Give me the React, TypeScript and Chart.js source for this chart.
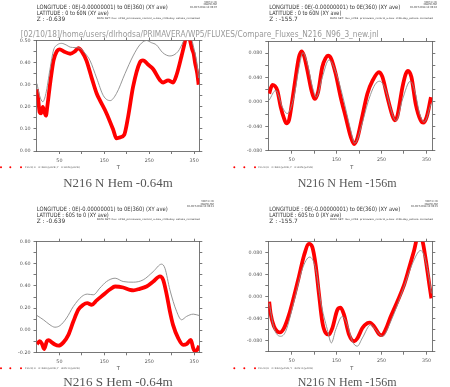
import React, { useEffect, useRef } from "react";
import { Chart, registerables } from "chart.js";
Chart.register(...registerables);

// ---------------- data ----------------
const xTickValues = [50, 100, 150, 200, 250, 300, 350];
const xTickLabels = [50, 150, 250, 350];

// top-left: N216 N Hem -0.64m
const tlRedX = [0, 3, 6, 9, 13, 16, 20, 23, 29, 33, 37, 44, 51, 60, 74, 84, 92, 100, 110, 122, 133, 140, 155, 170, 177, 185, 194, 203, 214, 229, 236, 248, 259, 274, 281, 292, 303, 311, 322, 329, 335, 341, 346, 349, 352, 357, 360];
const tlRedY = [0.28, 0.23, 0.175, 0.17, 0.2, 0.18, 0.16, 0.2, 0.3, 0.36, 0.41, 0.45, 0.46, 0.45, 0.44, 0.45, 0.465, 0.45, 0.41, 0.33, 0.26, 0.23, 0.17, 0.095, 0.057, 0.062, 0.072, 0.155, 0.29, 0.4, 0.41, 0.39, 0.37, 0.32, 0.31, 0.32, 0.31, 0.345, 0.43, 0.49, 0.56, 0.5, 0.457, 0.44, 0.4, 0.35, 0.3];
const tlGrayX = [0, 6, 13, 20, 29, 37, 45, 55, 65, 74, 85, 96, 108, 118, 133, 148, 163, 177, 196, 214, 229, 244, 255, 266, 280, 296, 314, 326, 334, 342, 350, 356, 360];
const tlGrayY = [0.305, 0.25, 0.223, 0.26, 0.37, 0.457, 0.48, 0.487, 0.48, 0.47, 0.468, 0.465, 0.44, 0.41, 0.33, 0.25, 0.228, 0.26, 0.35, 0.43, 0.48, 0.5, 0.49, 0.48, 0.445, 0.43, 0.45, 0.495, 0.53, 0.52, 0.46, 0.4, 0.33];

// top-right: N216 N Hem -156m
const trRedX = [0, 7, 18, 25.5, 33, 38, 44, 51.5, 59, 66, 72, 77.5, 85, 94, 101, 108.7, 118, 125.7, 131, 138, 148, 159, 170, 181.4, 189, 196, 207, 218.5, 230, 244.5, 252, 263, 274, 279.5, 285, 296.5, 304, 309, 316.5, 326, 337, 343, 350.7, 360];
const trRedY = [0.0136, 0.028, 0.019, -0.008, -0.027, -0.035, -0.03, 0.003, 0.041, 0.073, 0.083, 0.076, 0.052, 0.019, 0.005, 0.016, 0.057, 0.072, 0.076, 0.071, 0.046, 0.008, -0.024, -0.057, -0.069, -0.06, -0.024, 0.0136, 0.035, 0.049, 0.041, 0.008, -0.022, -0.03, -0.024, 0.024, 0.046, 0.051, 0.041, -0.003, -0.03, -0.034, -0.024, 0.008];
const trGrayX = [0, 14.5, 29, 40, 55, 66, 75, 85, 96, 105, 118, 133, 150, 165, 180, 190.5, 205, 220, 235, 246, 260, 270, 282, 297, 314, 325, 335, 345, 360];
const trGrayY = [0.003, 0.019, -0.008, -0.019, 0.008, 0.055, 0.081, 0.063, 0.025, 0.008, 0.04, 0.069, 0.045, 0.005, -0.042, -0.068, -0.04, 0.0, 0.028, 0.034, 0.018, -0.01, -0.031, 0.005, 0.034, 0.015, -0.02, -0.033, -0.003];

// bottom-left: N216 S Hem -0.64m
const blRedX = [0, 6, 10.8, 16, 22, 26, 33, 40, 48, 59, 70, 81, 92, 103, 112, 122, 133, 148, 163, 174, 192, 207, 215, 229, 244, 259, 274, 281, 289, 296, 303, 314.5, 325.6, 333, 342.7, 348, 351.6, 357, 361];
const blRedY = [-0.127, -0.1, -0.12, -0.17, -0.1, -0.09, -0.11, -0.13, -0.14, -0.11, -0.042, 0.078, 0.184, 0.23, 0.244, 0.23, 0.27, 0.32, 0.37, 0.395, 0.386, 0.365, 0.36, 0.374, 0.395, 0.44, 0.486, 0.455, 0.32, 0.17, 0.048, -0.072, -0.133, -0.127, -0.087, -0.163, -0.187, -0.178, -0.14];
const blGrayX = [0, 14.5, 29, 40, 51.5, 66, 81, 100, 112, 125.6, 140, 155, 174, 192, 214.5, 236.6, 259, 277.5, 285, 296, 311, 322, 333, 348, 361];
const blGrayY = [0.133, 0.094, 0.048, 0.027, 0.042, 0.11, 0.214, 0.305, 0.326, 0.32, 0.38, 0.44, 0.47, 0.44, 0.434, 0.455, 0.53, 0.597, 0.56, 0.365, 0.17, 0.094, 0.124, 0.145, 0.133];

// bottom-right: N216 N Hem -156m
const brRedX = [0, 3, 10.7, 18, 24, 33, 44, 55, 66, 77.5, 88.6, 96, 103.5, 111, 118, 125.7, 133, 140.6, 151.7, 159, 166.6, 177.7, 189, 196, 207.4, 218.5, 223.8, 233.5, 244.5, 250, 259, 270.5, 285, 300, 311, 322.5, 333, 341, 348.7, 356, 361];
const brRedY = [-0.009, -0.03, -0.054, -0.063, -0.065, -0.057, -0.033, 0, 0.036, 0.075, 0.096, 0.09, 0.057, 0.003, -0.045, -0.066, -0.069, -0.057, -0.024, -0.02, -0.033, -0.069, -0.081, -0.076, -0.057, -0.048, -0.047, -0.054, -0.068, -0.07, -0.06, -0.036, -0.009, 0.021, 0.051, 0.084, 0.115, 0.102, 0.066, 0.024, -0.003];
const brGrayX = [0, 10.7, 25.5, 36.7, 55, 74, 90, 103.5, 114.6, 129.5, 138.4, 148, 162.8, 174, 185, 196, 207.4, 226, 237, 252, 270.5, 300, 318.7, 337, 344.8, 356, 361];
const brGrayY = [-0.012, -0.057, -0.072, -0.063, -0.009, 0.051, 0.072, 0.051, -0.009, -0.06, -0.084, -0.06, -0.036, -0.051, -0.081, -0.09, -0.075, -0.051, -0.06, -0.072, -0.045, 0.018, 0.06, 0.084, 0.075, 0.033, 0.006];

const tlYTicks = [0, 0.05, 0.1, 0.15, 0.2, 0.25, 0.3, 0.35, 0.4, 0.45, 0.5];
const tlYLabels = [0, 0.1, 0.2, 0.3, 0.4, 0.5];
const trYTicks = [-0.08, -0.06, -0.04, -0.02, 0, 0.02, 0.04, 0.06, 0.08, 0.1];
const trYLabels = [-0.08, -0.04, 0, 0.04, 0.08];
const blYTicks = [-0.2, -0.1, 0, 0.1, 0.2, 0.3, 0.4, 0.5, 0.6, 0.7, 0.8];
const blYLabels = [-0.2, 0, 0.2, 0.4, 0.6, 0.8];
const brYTicks = [-0.1, -0.08, -0.06, -0.04, -0.02, 0, 0.02, 0.04, 0.06, 0.08, 0.1];
const brYLabels = [-0.08, -0.04, 0, 0.04, 0.08];

const titles = ["N216 N Hem -0.64m", "N216 N Hem -156m", "N216 S Hem -0.64m", "N216 N Hem -156m"];
const headerText = "[02/10/18]/home/users/dlrhodsa/PRIMAVERA/WP5/FLUXES/Compare_Fluxes_N216_N96_3_new.jnl";
const longText = "LONGITUDE : 0E(-0.00000001) to 0E(360) (XY ave)";
const latTexts = ["LATITUDE : 0 to 60N (XY ave)", "LATITUDE : 0 to 60N (XY ave)", "LATITUDE : 60S to 0 (XY ave)", "LATITUDE : 60S to 0 (XY ave)"];
const zTexts = ["Z : -0.639", "Z : -155.7", "Z : -0.639", "Z : -155.7"];
const stampTimes = ["02-OCT-2018 13:06:07", "02-OCT-2018 13:06:10", "02-OCT-2018 13:06:13", "02-OCT-2018 13:06:15"];
const dataSetText = "DATA SET: flux_n216_primavera_control_u-bax_cf3b-day_ashaia_corrected";
const legendTexts = ["FLUX[X=0:360@AVE,Y=0:60N@AVE]", "FLUX[X=0:360@AVE,Y=0:60N@AVE]", "FLUX[X=0:360@AVE,Y=60S:0@AVE]", "FLUX[X=0:360@AVE,Y=60S:0@AVE]"];

// ---------------- layout / style ----------------
const AXIS = "#555";
const LABEL = "#555";
const SANS = "'DejaVu Sans', 'Liberation Sans', sans-serif";
const SERIF = "'Liberation Serif', 'DejaVu Serif', serif";

type Cfg = {
  left: number; top: number; w: number; h: number;
  area: { l: number; t: number; r: number; b: number };
  xMin: number; xMax: number; yMin: number; yMax: number;
  yTicks: number[]; yLabels: number[]; dec: number;
  redX: number[]; redY: number[]; grayX: number[]; grayY: number[];
};

const panels: Cfg[] = [
  { left: 0, top: 0, w: 225, h: 193, area: { l: 36.5, t: 40.5, r: 199.3, b: 151 }, xMin: -1, xMax: 361.5, yMin: 0, yMax: 0.5, yTicks: tlYTicks, yLabels: tlYLabels, dec: 2, redX: tlRedX, redY: tlRedY, grayX: tlGrayX, grayY: tlGrayY },
  { left: 225, top: 0, w: 225, h: 193, area: { l: 43.3, t: 41, r: 207.3, b: 150.7 }, xMin: -2, xMax: 363, yMin: -0.08, yMax: 0.1, yTicks: trYTicks, yLabels: trYLabels, dec: 3, redX: trRedX, redY: trRedY, grayX: trGrayX, grayY: trGrayY },
  { left: 0, top: 193, w: 225, h: 194, area: { l: 36.5, t: 48.7, r: 199.3, b: 159.3 }, xMin: -1, xMax: 361.5, yMin: -0.2, yMax: 0.8, yTicks: blYTicks, yLabels: blYLabels, dec: 2, redX: blRedX, redY: blRedY, grayX: blGrayX, grayY: blGrayY },
  { left: 225, top: 193, w: 225, h: 194, area: { l: 43.3, t: 48.7, r: 207.3, b: 158.7 }, xMin: -2, xMax: 363, yMin: -0.1, yMax: 0.1, yTicks: brYTicks, yLabels: brYLabels, dec: 3, redX: brRedX, redY: brRedY, grayX: brGrayX, grayY: brGrayY },
];

const near = (arr: number[], v: number) => arr.some((a) => Math.abs(a - v) < 1e-9);

function Panel({ cfg }: { cfg: Cfg }) {
  const ref = useRef<HTMLCanvasElement>(null);
  useEffect(() => {
    const c = cfg;
    const grid = { drawOnChartArea: false, drawTicks: true, tickLength: 3, color: AXIS, lineWidth: 0.8 };
    const border = { display: true, color: AXIS, width: 0.8 };
    const tickFont = { size: 4.8, family: SANS };
    const setTicks = (vals: number[]) => (s: any) => {
      s.ticks = vals.map((v) => ({ value: v }));
    };
    const chart = new Chart(ref.current as HTMLCanvasElement, {
      type: "line",
      data: {
        datasets: [
          {
            data: c.redX.map((x, i) => ({ x, y: c.redY[i] })),
            borderColor: "#ff0000",
            borderWidth: 3.8,
            pointRadius: 0,
            cubicInterpolationMode: "monotone",
            clip: 0,
            order: 2,
          } as any,
          {
            data: c.grayX.map((x, i) => ({ x, y: c.grayY[i] })),
            borderColor: "#8a8a8a",
            borderWidth: 0.9,
            pointRadius: 0,
            cubicInterpolationMode: "monotone",
            clip: 0,
            order: 1,
          } as any,
        ],
      },
      options: {
        animation: false,
        responsive: false,
        devicePixelRatio: 1,
        layout: { padding: 0 },
        plugins: { legend: { display: false }, tooltip: { enabled: false }, title: { display: false } },
        events: [],
        scales: {
          x: {
            type: "linear", position: "bottom", min: c.xMin, max: c.xMax,
            afterBuildTicks: setTicks(xTickValues),
            afterFit: (s: any) => { s.height = c.h - c.area.b; },
            grid, border,
            ticks: { autoSkip: false, maxRotation: 0, minRotation: 0, padding: 3.5, font: tickFont, color: LABEL,
              callback: (v: any) => (near(xTickLabels, v) ? String(v) : "") },
          },
          x2: {
            type: "linear", position: "top", min: c.xMin, max: c.xMax,
            afterBuildTicks: setTicks(xTickValues),
            afterFit: (s: any) => { s.height = c.area.t; },
            grid, border,
            ticks: { autoSkip: false, maxRotation: 0, minRotation: 0, font: tickFont, callback: () => "" },
          },
          y: {
            type: "linear", position: "left", min: c.yMin, max: c.yMax,
            afterBuildTicks: setTicks(c.yTicks),
            afterFit: (s: any) => { s.width = c.area.l; },
            grid, border,
            ticks: { autoSkip: false, padding: 3, font: tickFont, color: LABEL,
              callback: (v: any) => (near(c.yLabels, v) ? Number(v).toFixed(c.dec) : "") },
          },
          y2: {
            type: "linear", position: "right", min: c.yMin, max: c.yMax,
            afterBuildTicks: setTicks(c.yTicks),
            afterFit: (s: any) => { s.width = c.w - c.area.r; },
            grid, border,
            ticks: { autoSkip: false, font: tickFont, callback: () => "" },
          },
        } as any,
      },
    });
    return () => chart.destroy();
  }, [cfg]);
  return (
    <canvas
      ref={ref}
      width={cfg.w}
      height={cfg.h}
      style={{ position: "absolute", left: cfg.left, top: cfg.top, width: cfg.w, height: cfg.h }}
    />
  );
}

function T(props: { x: number; y: number; s: number; len?: number; fill?: string; family?: string; anchor?: string; children: string }) {
  const { x, y, s, len, fill, family, anchor, children } = props;
  return (
    <text
      x={x}
      y={y}
      fontSize={s}
      fill={fill || "#333"}
      fontFamily={family || SANS}
      textAnchor={anchor || "start"}
      {...(len ? { textLength: len, lengthAdjust: "spacingAndGlyphs" } : {})}
    >
      {children}
    </text>
  );
}

export default function App() {
  useEffect(() => {
    document.body.style.margin = "0";
  }, []);

  // per-panel text anchor positions
  const infoX = [36.7, 269.3, 36.7, 269.3];
  const infoY = [9, 9, 210.5, 210.5];
  const stampR = [217, 437, 214, 438];
  const stampY = [2.6, 2.6, 202, 202];
  const dataX = [96.7, 330, 96.7, 330];
  const dataY = [18.8, 18.8, 220, 220];
  const titleX = [118, 347.2, 118, 347.2];
  const titleY = [187, 187, 386.3, 386.3];
  const titleLen = [109.4, 99, 109.4, 99];
  const legY = [167.3, 167.3, 368.3, 368.3];
  const legDots = [[1, 10.3, 21], [234.3, 244.3, 255], [1, 10.3, 21], [234.3, 244.3, 255]];
  const legTextX = [25, 258.3, 25, 258.3];
  const tX = [118.3, 351.7, 118.3, 351.7];

  return (
    <div style={{ position: "relative", width: 450, height: 387, background: "#fff", overflow: "hidden" }}>
      {panels.map((p, i) => (
        <Panel key={i} cfg={p} />
      ))}
      <svg width={450} height={387} style={{ position: "absolute", left: 0, top: 0, pointerEvents: "none" }}>
        {panels.map((_, i) => (
          <g key={i}>
            <T x={stampR[i]} y={stampY[i]} s={2.6} anchor="end" len={12.7}>FERRET Ver. 6.93</T>
            <T x={stampR[i]} y={stampY[i] + 2.5} s={2.6} anchor="end" len={13.2}>NOAA/PMEL TMAP</T>
            <T x={stampR[i]} y={stampY[i] + 5} s={2.6} anchor="end" len={27}>{stampTimes[i]}</T>
            <T x={infoX[i]} y={infoY[i]} s={6} len={131}>{longText}</T>
            <T x={infoX[i]} y={infoY[i] + 6.3} s={6} len={72}>{latTexts[i]}</T>
            <T x={infoX[i]} y={infoY[i] + 12} s={6} len={28.5}>{zTexts[i]}</T>
            <T x={dataX[i]} y={dataY[i]} s={2.4} len={103}>{dataSetText}</T>
            <T x={tX[i]} y={legY[i] + 1.8} s={5} anchor="middle" fill="#444">T</T>
            {legDots[i].map((dx, k) => (
              <circle key={k} cx={dx} cy={legY[i]} r={1} fill="#ff0000" />
            ))}
            <T x={legTextX[i]} y={legY[i] + 0.9} s={2.4} len={55} fill="#666">{legendTexts[i]}</T>
            <T x={titleX[i]} y={titleY[i]} s={13} anchor="middle" len={titleLen[i]} fill="#555" family={SERIF}>
              {titles[i]}
            </T>
          </g>
        ))}
        <T x={20.7} y={36.5} s={9.5} len={358} fill="#999">{headerText}</T>
      </svg>
    </div>
  );
}
